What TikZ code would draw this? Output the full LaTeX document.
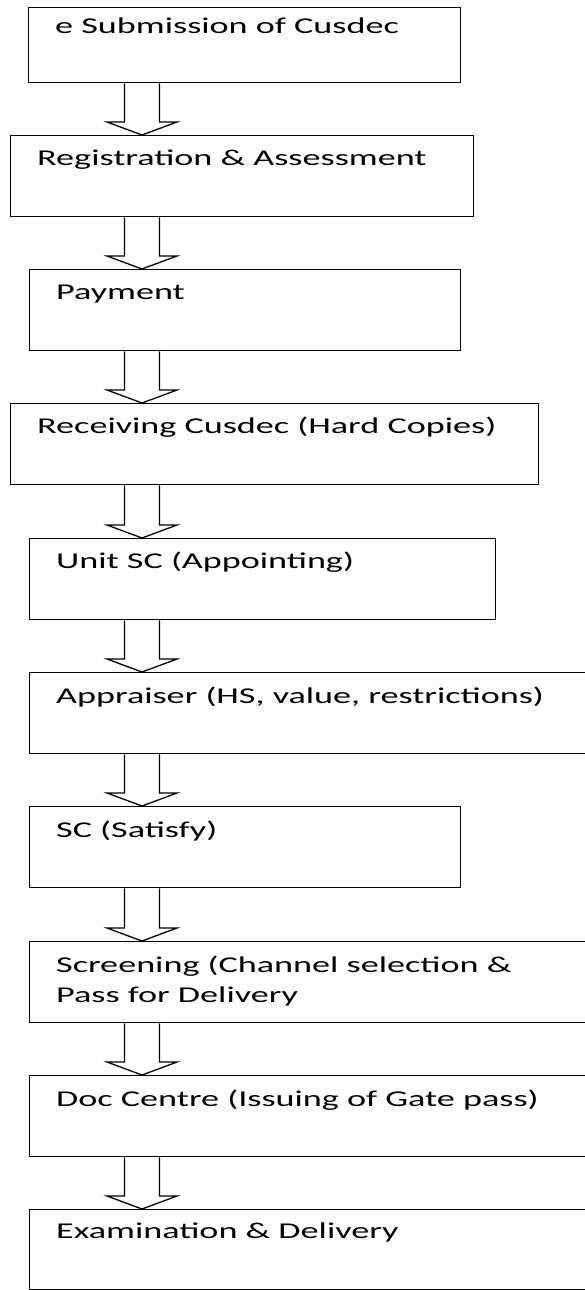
\documentclass[tikz,border=0pt]{standalone}
\usepackage{fontspec}
\setmainfont{Carlito}
\usetikzlibrary{calc}

% wide lettering of the scanned chart
\newcommand{\wide}[1]{\scalebox{1.6}[1]{#1}}

\tikzset{
  box/.style={draw, line width=1.3pt, rectangle, anchor=north west,
    inner sep=0pt, minimum height=81pt},
  boxtext/.style={anchor=base west, inner sep=0pt, align=left,
    font=\fontsize{22.6}{30}\selectfont},
  flow/.style={line width=1.3pt, line join=miter},
}

% hollow block arrow from the bottom of #1 to the top of #2
\newcommand{\flowarrow}[2]{%
  \draw[flow] ($(mid |- #1.south)+(-17.5,0)$) -- ($(mid |- #2.north)+(-17.5,13)$)
    -- ($(mid |- #2.north)+(-35,13)$) -- (mid |- #2.north)
    -- ($(mid |- #2.north)+(35,13)$) -- ($(mid |- #2.north)+(17.5,13)$)
    -- ($(mid |- #1.south)+(17.5,0)$);}

\begin{document}
\begin{tikzpicture}[x=1pt, y=1pt]

\clip (0,0) rectangle (585,-1290);

% axis of the arrows
\coordinate (mid) at (142,0);

% Boxes
\node[box, minimum width=432pt, minimum height=75pt] (sub) at (28,-7) {};
\node[box, minimum width=463pt] (reg) at (10,-135) {};
\node[box, minimum width=431pt] (pay) at (29,-269) {};
\node[box, minimum width=528pt] (recv) at (10,-403) {};
\node[box, minimum width=466pt] (unit) at (29,-538) {};
\node[box, minimum width=570pt] (appr) at (29,-672) {};
\node[box, minimum width=431pt] (satf) at (29,-806) {};
\node[box, minimum width=570pt] (scrn) at (29,-941) {};
\node[box, minimum width=570pt] (doc) at (29,-1075) {};
\node[box, minimum width=570pt, minimum height=80pt] (exam) at (29,-1209) {};

% Box texts
\node[boxtext] (sub-t) at ($(sub.north west)+(27,-27)$) {\wide{e Submission of Cusdec}};
\node[boxtext] (reg-t) at ($(reg.north west)+(27,-30)$) {\wide{Registration \& Assessment}};
\node[boxtext] (pay-t) at ($(pay.north west)+(27,-30)$) {\wide{Payment}};
\node[boxtext] (recv-t) at ($(recv.north west)+(27,-30)$) {\wide{Receiving Cusdec (Hard Copies)}};
\node[boxtext] (unit-t) at ($(unit.north west)+(27,-30)$) {\wide{Unit SC (Appointing)}};
\node[boxtext] (appr-t) at ($(appr.north west)+(27,-31)$) {\wide{Appraiser (HS, value, restrictions)}};
\node[boxtext] (satf-t) at ($(satf.north west)+(27,-31)$) {\wide{SC (Satisfy)}};
% two lines: base is the last line
\node[boxtext] (scrn-t) at ($(scrn.north west)+(27,-61)$) {\wide{Screening (Channel selection \&}\\\wide{Pass for Delivery}};
\node[boxtext] (doc-t) at ($(doc.north west)+(27,-31)$) {\wide{Doc Centre (Issuing of Gate pass)}};
\node[boxtext] (exam-t) at ($(exam.north west)+(27,-29)$) {\wide{Examination \& Delivery}};

% Arrows
\foreach \a/\b in {sub/reg, reg/pay, pay/recv, recv/unit, unit/appr,
                   appr/satf, satf/scrn, scrn/doc, doc/exam}
  \flowarrow{\a}{\b};

\end{tikzpicture}
\end{document}
